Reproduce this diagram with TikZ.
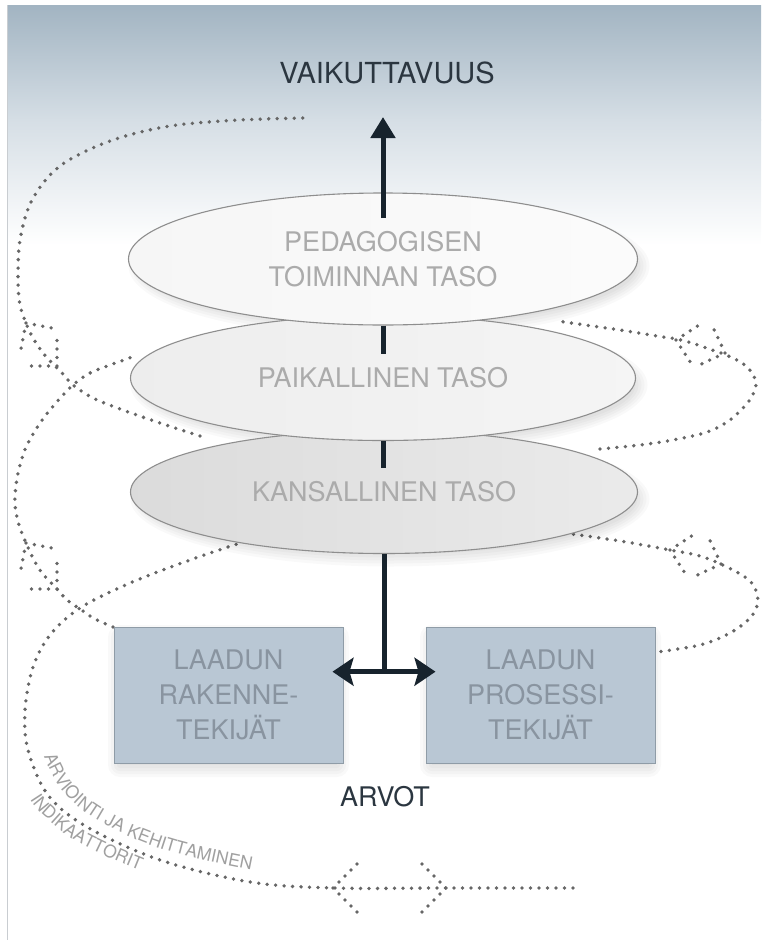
\documentclass[tikz,border=0pt]{standalone}
\usepackage{fontspec}
\setmainfont{TeX Gyre Heros}
\usetikzlibrary{shapes.geometric, arrows.meta, calc, decorations.text}

\definecolor{bgtop}{HTML}{A2B4C2}
\definecolor{bgmid}{HTML}{D5DEE5}
\definecolor{framec}{HTML}{C9CDD1}
\definecolor{dotc}{HTML}{666666}
\definecolor{elltext}{HTML}{ABABAB}
\definecolor{ellline}{HTML}{8E8E8E}
\definecolor{boxfill}{HTML}{B9C7D4}
\definecolor{boxline}{HTML}{8F9CA7}
\definecolor{boxtext}{HTML}{8994A0}
\definecolor{darktext}{HTML}{2B3640}
\definecolor{arrowc}{HTML}{17232D}
\definecolor{curvtext}{HTML}{A0A0A0}

\tikzset{
  dotline/.style={draw=dotc, line width=3.8pt, line cap=round, dash pattern=on 0pt off 8.5pt},
  layer/.style={ellipse, draw=ellline, line width=1.1pt, inner sep=0pt,
    font=\fontsize{27}{35}\selectfont, text=elltext, align=center},
  factor/.style={rectangle, draw=boxline, line width=1pt, fill=boxfill,
    minimum width=229pt, minimum height=136pt, inner sep=0pt,
    font=\fontsize{27}{35}\selectfont, text=boxtext, align=center},
  heading/.style={font=\fontsize{29}{29}\selectfont, text=darktext, inner sep=0pt},
  flow/.style={draw=arrowc, line width=5pt},
  softshadow/.style={fill=black, fill opacity=0.025, draw=none},
}

\newcommand{\chevron}[4]{% x, y, pointing angle, arm length
  \draw[dotline] ($(#1,#2)+({#3+135}:#4)$) -- (#1,#2) -- ($(#1,#2)+({#3+225}:#4)$);}
\newcommand{\ellshadow}[4]{% cx, cy, rx, ry
  \foreach \g in {0,3,6,9,12}{\fill[softshadow] (#1+6,#2+7) ellipse ({#3+\g-6} and {#4+\g-6});}}
\newcommand{\boxshadow}[4]{% x1,y1,x2,y2
  \foreach \g in {0,3,6,9,12}{\fill[softshadow, rounded corners=\g] (#1-\g+6,#2-\g+10) rectangle (#3+\g-6,#4+\g+2);}}

\begin{document}
\begin{tikzpicture}[x=1pt,y=-1pt]
\useasboundingbox (0,0) rectangle (761,940);
\fill[white] (0,0) rectangle (761,940);
\shade[top color=bgtop, bottom color=bgmid] (7,5) rectangle (761,120);
\shade[top color=bgmid, bottom color=white] (7,119.5) rectangle (761,245);
\draw[framec, line width=1.2pt] (7.5,5) -- (7.5,940);

% dotted spiral
\draw[dotline] plot[smooth, tension=0.55] coordinates {(573,888) (450,888) (333,888) (250,882) (160,860) (87,827) (48,795) (28,750) (25,710) (33,667) (50,635) (80,608) (130,583) (190,560) (240,543)};
\draw[dotline] plot[smooth, tension=0.55] coordinates {(565,533) (620,541) (670,550) (700,556) (729,568) (751,582) (758,600) (751,617) (730,633) (700,645) (657,652)};
\draw[dotline] plot[smooth, tension=0.55] coordinates {(113,627) (95,619) (80,609) (67,600) (57,589) (42,573) (33,558) (26,543) (19,525) (15,505) (16,485) (20,465) (27,445) (40,423) (55,404) (73,385) (90,373) (110,365) (138,355)};
\draw[dotline] plot[smooth, tension=0.55] coordinates {(600,449) (640,445) (673,440) (707,432) (730,420) (749,401) (756,385) (752,373) (742,363) (726,355) (709,349) (692,343) (676,339) (657,336) (620,330) (557,321)};
\draw[dotline] plot[smooth, tension=0.55] coordinates {(200,436) (160,423) (120,409) (93,398) (73,385) (62,373) (54,365) (43,353) (33,338) (26,323) (20,305) (18,280) (20,240) (32,200) (60,166) (110,141) (170,126) (240,120) (305,118)};

% chevrons (double arrow heads)
\chevron{26}{323}{236}{25.5}
\chevron{57}{366}{45}{25.5}
\chevron{26}{543}{236}{25.5}
\chevron{57}{589}{45}{25.5}
\chevron{676}{340}{192}{25.5}
\chevron{725}{353}{20}{25.5}
\chevron{670}{550}{192}{25.5}
\chevron{721}{564}{20}{25.5}
\chevron{333}{888}{180}{34}
\chevron{446}{888}{0}{34}

% curved labels
\path[decorate, decoration={text along path, text align=left,
  text={|\fontsize{17.5}{17.5}\selectfont\color{curvtext}|ARVIOINTI JA KEHITTAMINEN}}]
  plot[smooth, tension=0.6] coordinates {(44,756) (61,789) (97,820) (165,850) (262,872) (320,881)};
\path[decorate, decoration={text along path, text align=left,
  text={|\fontsize{17.5}{17.5}\selectfont\color{curvtext}|INDIKAATTORIT}}]
  plot[smooth, tension=0.6] coordinates {(30,799) (44,816) (81,844) (160,878) (220,889)};

% soft shadows
\ellshadow{384}{492}{253.5}{61.5}
\ellshadow{383}{378}{252.5}{62.5}
\ellshadow{383}{259}{254.5}{66}
\boxshadow{114}{627}{343}{763}
\boxshadow{426}{627}{655}{763}

% layers
\node[layer, minimum width=507pt, minimum height=123pt, left color=gray!28, right color=gray!16] (e3) at (384,492) {KANSALLINEN TASO};
\node[layer, minimum width=505pt, minimum height=125pt, left color=gray!14, right color=gray!8] (e2) at (383,378) {PAIKALLINEN TASO};
\node[layer, minimum width=509pt, minimum height=132pt, left color=gray!7, right color=gray!3] (e1) at (383,259) {PEDAGOGISEN\\TOIMINNAN TASO};

% factor boxes
\node[factor] (b1) at (228.5,695) {LAADUN\\RAKENNE-\\TEKIJÄT};
\node[factor] (b2) at (540.5,695) {LAADUN\\PROSESSI-\\TEKIJÄT};

% headings
\node[heading] (impact) at (387,73) {VAIKUTTAVUUS};
\node[heading, font=\fontsize{27}{27}\selectfont] (values) at (385,797) {ARVOT};

% arrows
\coordinate (stemtop) at (383,218);
\coordinate (tip) at (383,117);
\draw[flow, -{Triangle[length=21pt,width=24pt]}] (stemtop) -- (tip);
\draw[flow] (e1.south) -- ++(0,28);
\draw[flow] (e2.south) -- ++(0,27);
\coordinate (hl) at ($(b1.north east)!0.33!(b1.south east)$);
\coordinate (hr) at ($(b2.north west)!0.33!(b2.south west)$);
\draw[flow] (e3.south) -- (e3.south |- hl);
\draw[flow, {Stealth[length=21pt,width=28pt,inset=4pt]}-{Stealth[length=21pt,width=28pt,inset=4pt]}, shorten <=-11pt, shorten >=-10pt] (hl) -- (hr);
\end{tikzpicture}
\end{document}
